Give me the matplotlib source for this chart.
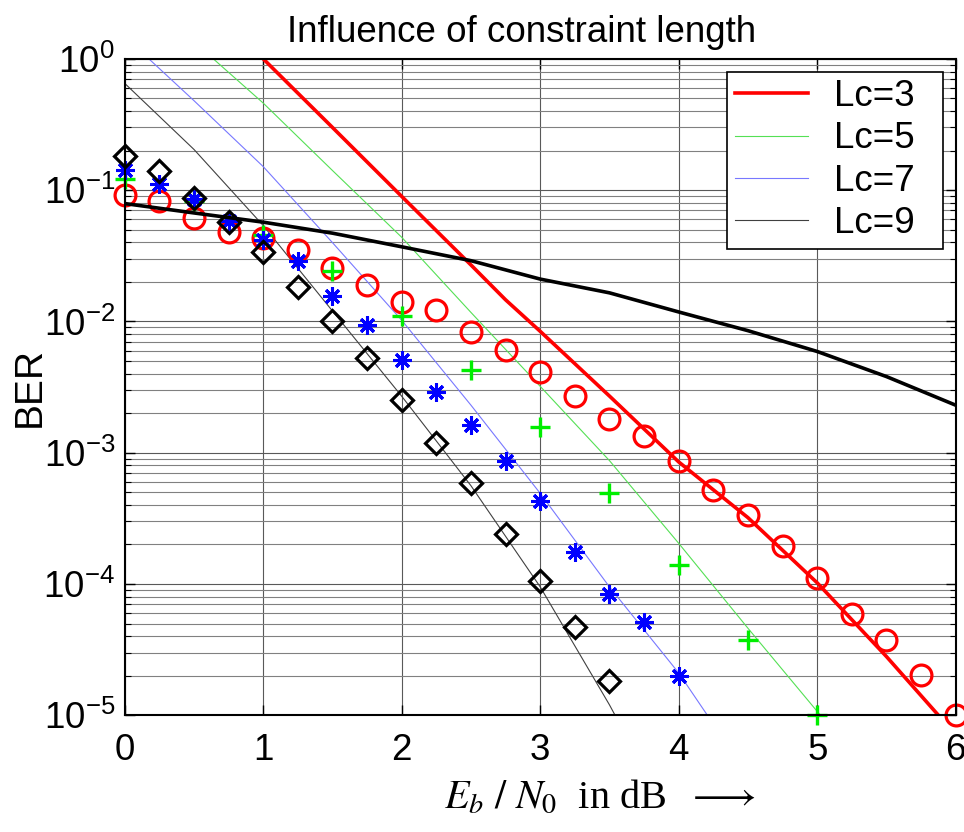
import numpy as np
import matplotlib
matplotlib.use("Agg")
import matplotlib.pyplot as plt

plt.rcParams['font.family'] = ['Liberation Sans', 'DejaVu Sans']
plt.rcParams['mathtext.fontset'] = 'custom'
plt.rcParams['mathtext.rm'] = 'Liberation Sans'
plt.rcParams['axes.unicode_minus'] = False

# union bounds (lines)
x_lc3 = [1.0, 1.5, 2.0, 2.5, 2.75, 3.0, 3.5, 4.0, 4.5, 5.0, 5.5, 6.0]
ber_lc3 = [1.0, 0.30, 0.0895, 0.0269, 0.0146, 0.0084, 0.0027, 8.5e-4, 3.2e-4, 1.02e-4, 2.8e-5, 7.1e-6]

x_lc5 = [0.0, 0.5, 1.0, 1.5, 2.0, 2.5, 3.0, 3.5, 4.0, 4.5, 5.0, 5.5]
ber_lc5 = [4.0, 1.35, 0.46, 0.141, 0.0437, 0.0117, 0.0032, 8.7e-4, 2.04e-4, 4.6e-5, 1.07e-5, 2.5e-6]

x_lc7 = [0.0, 0.5, 1.0, 1.5, 2.0, 2.5, 3.0, 3.5, 4.0, 4.5]
ber_lc7 = [1.48, 0.48, 0.151, 0.0398, 0.0102, 0.0023, 4.9e-4, 9.5e-5, 2.1e-5, 3.5e-6]

x_lc9 = [0.0, 0.5, 1.0, 1.5, 2.0, 2.5, 3.0, 3.5, 4.0]
ber_lc9 = [0.65, 0.204, 0.0537, 0.0120, 0.00269, 5.6e-4, 9.5e-5, 1.2e-5, 1.26e-6]

# uncoded
x_unc = [0.0, 0.5, 1.0, 1.5, 2.0, 2.5, 3.0, 3.5, 4.0, 4.5, 5.0, 5.5, 6.0]
ber_unc = [0.079, 0.067, 0.057, 0.047, 0.037, 0.029, 0.021, 0.0165, 0.0118, 0.0085, 0.0059, 0.0038, 0.0023]

# simulation (markers)
x_sim3 = [0, 0.25, 0.5, 0.75, 1, 1.25, 1.5, 1.75, 2, 2.25, 2.5, 2.75, 3, 3.25, 3.5,
          3.75, 4, 4.25, 4.5, 4.75, 5, 5.25, 5.5, 5.75, 6]
ber_sim3 = [0.091, 0.082, 0.061, 0.048, 0.043, 0.0347, 0.0255, 0.019, 0.014, 0.0123, 0.0083,
            0.0061, 0.0041, 0.0027, 0.0018, 0.00133, 8.7e-4, 5.2e-4, 3.33e-4, 1.95e-4,
            1.12e-4, 5.9e-5, 3.76e-5, 2.02e-5, 1.0e-5]

x_sim5 = [0, 0.5, 1, 1.5, 2, 2.5, 3, 3.5, 4, 4.5, 5]
ber_sim5 = [0.122, 0.082, 0.0457, 0.0244, 0.0109, 0.0043, 0.00157, 4.9e-4, 1.4e-4, 3.76e-5, 1.0e-5]

x_sim7 = [0, 0.25, 0.5, 0.75, 1, 1.25, 1.5, 1.75, 2, 2.25, 2.5, 2.75, 3, 3.25, 3.5, 3.75, 4]
ber_sim7 = [0.143, 0.111, 0.085, 0.058, 0.042, 0.0286, 0.0157, 0.0094, 0.0051, 0.0029,
            0.00163, 8.7e-4, 4.25e-4, 1.75e-4, 8.4e-5, 5.1e-5, 2.0e-5]

x_sim9 = [0, 0.25, 0.5, 0.75, 1, 1.25, 1.5, 1.75, 2, 2.25, 2.5, 2.75, 3, 3.25, 3.5]
ber_sim9 = [0.182, 0.140, 0.087, 0.057, 0.0337, 0.0184, 0.0100, 0.00525, 0.00253, 0.00118,
            5.9e-4, 2.4e-4, 1.06e-4, 4.67e-5, 1.81e-5]

fig = plt.figure(figsize=(9.64, 8.32), dpi=100)
ax = fig.add_axes([0.1294, 0.1403, 0.862, 0.789])

ax.semilogy(x_lc3, ber_lc3, color='#ff0000', lw=2.6, label='Lc=3  ')
ax.semilogy(x_lc5, ber_lc5, color='#55e055', lw=0.8, label='Lc=5  ')
ax.semilogy(x_lc7, ber_lc7, color='#7878ff', lw=0.8, label='Lc=7  ')
ax.semilogy(x_lc9, ber_lc9, color='#404040', lw=0.8, label='Lc=9  ')

ax.semilogy(x_sim3, ber_sim3, 'o', mfc='none', mec='#ff0000', ms=15, mew=2.3, clip_on=False)
ax.semilogy(x_sim5, ber_sim5, '+', color='#00ee00', ms=14.5, mew=2.4, clip_on=False)
ax.semilogy(x_sim7, ber_sim7, marker=(8, 2, 0), ls='none', color='#0000ff', ms=13, mew=2.2, clip_on=False)
ax.semilogy(x_sim9, ber_sim9, 'D', mfc='none', mec='black', ms=11.5, mew=2.3, clip_on=False)

ax.semilogy(x_unc, ber_unc, color='black', lw=2.6)

ax.set_xlim(0, 6)
ax.set_ylim(1e-5, 1)
ax.set_xticks(range(7))
ax.set_yticks([1e-5, 1e-4, 1e-3, 1e-2, 1e-1, 1])
ax.set_yticklabels([r'$\mathdefault{10^{%d}}$' % e for e in range(-5, 1)])

ax.grid(True, which='major', color='0.35', lw=0.8)
ax.grid(True, which='minor', axis='y', color='0.5', lw=0.8)
ax.tick_params(which='both', direction='in', top=True, right=True, labelsize=26.5)
ax.tick_params(which='major', length=7, width=1)
ax.tick_params(which='minor', length=4, width=0.8)
ax.tick_params(axis='x', pad=13)
ax.tick_params(axis='y', pad=7)
for s in ax.spines.values():
    s.set_linewidth(1.5)

ax.set_ylabel('BER', fontsize=28, labelpad=-3)
ax.set_title('Influence of constraint length', fontsize=26.5, x=0.4775, pad=12)
ax.set_xlabel(r'$E_b\ /\ N_0$  in dB  $\longrightarrow$', fontsize=29,
              family='Liberation Serif', math_fontfamily='stix')
ax.xaxis.set_label_coords(0.572, -0.097)

leg = ax.legend(loc='upper right', fontsize=26.5, handlelength=2.0, handletextpad=0.7,
                borderpad=0.2, labelspacing=0.2, fancybox=False, framealpha=1,
                edgecolor='black', borderaxespad=0.35)
leg.get_frame().set_linewidth(1.2)

fig.savefig('out.png', dpi=100)
